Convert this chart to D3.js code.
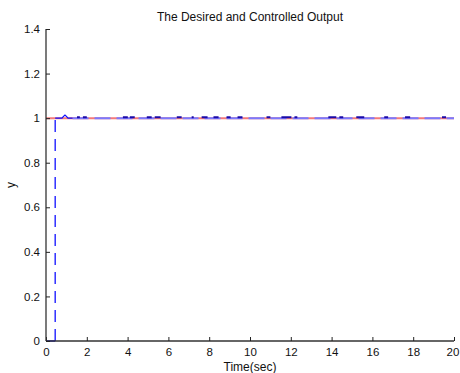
<!DOCTYPE html>
<html><head><meta charset="utf-8">
<script src="https://cdn.jsdelivr.net/npm/d3@7"></script>
<style>body{margin:0;background:#fff}svg{display:block}text{font-family:"Liberation Sans",Arial,sans-serif;fill:#111}</style>
</head><body><svg id="c" width="460" height="373"></svg>
<script>
const titleText = "The Desired and Controlled Output";
const xLabel = "Time(sec)";
const yLabel = "y";
const xTicks = [0,2,4,6,8,10,12,14,16,18,20];
const yTicks = [0,0.2,0.4,0.6,0.8,1,1.2,1.4];
const yTickLabels = ["0","0.2","0.4","0.6","0.8","1","1.2","1.4"];
// desired output (reference)
const desiredT = [0, 20];
const desiredY = [1, 1];
// controlled output: zero before step, rise, and small overshoot
const baseT = [0, 0.45];
const baseY = [0, 0];
const stepT = [0.45, 0.45];
const stepY = [0, 1];
const overT = [0.45, 0.62, 0.78, 0.86, 0.93, 1.0, 1.08, 1.3];
const overY = [1, 1, 1, 1.008, 1.014, 1.008, 1, 1];
// steady-state part of controlled output
const steadyT = [1.3, 20];
const steadyY = [1, 1];
// small deviations (dark segments) along steady state: [start, end]
const ripplesStart = [1.52,1.81,3.77,4.11,4.94,5.33,6.41,7.14,7.63,8.21,8.85,9.39,10.81,11.54,12.18,13.84,14.38,15.21,16.58,17.6,19.41];
const ripplesEnd   = [1.66,2.00,4.01,4.35,5.18,5.62,6.65,7.24,7.92,8.46,9.05,9.63,11.00,12.03,12.32,14.23,14.57,15.60,16.77,17.85,19.61];
const rippleY = 1.004;

const svg = d3.select("#c");
const x = d3.scaleLinear().domain([0,20]).range([46,454]);
const y = d3.scaleLinear().domain([0,1.4]).range([341,29]);

svg.append("text").attr("x",250).attr("y",21).attr("text-anchor","middle").attr("font-size",12).text(titleText);
svg.append("text").attr("x",250).attr("y",371).attr("text-anchor","middle").attr("font-size",12).text(xLabel);
svg.append("text").attr("transform","translate(15,185) rotate(-90)").attr("text-anchor","middle").attr("font-size",12).text(yLabel);

const line = d3.line().x(d=>x(d[0])).y(d=>y(d[1]));
const zip = (a,b)=>a.map((v,i)=>[v,b[i]]);

// desired
svg.append("path").attr("d",line(zip(desiredT,desiredY))).attr("fill","none").attr("stroke","#f47a7a").attr("stroke-width",2);
// steady state controlled (light blue dashed)
svg.append("path").attr("d",line(zip(steadyT,steadyY))).attr("fill","none").attr("stroke","#7a7aff").attr("stroke-width",2).attr("stroke-dasharray","16,6");
// ripples
svg.append("g").selectAll("line").data(ripplesStart.map((s,i)=>[s,ripplesEnd[i]])).join("line")
  .attr("x1",d=>x(d[0])).attr("x2",d=>x(d[1])).attr("y1",y(rippleY)).attr("y2",y(rippleY))
  .attr("stroke","#1a0aa8").attr("stroke-width",2);
// base, step and overshoot
svg.append("path").attr("d",line(zip(baseT,baseY))).attr("fill","none").attr("stroke","#1010ff").attr("stroke-width",1.5);
svg.append("path").attr("d",line(zip(stepT,stepY))).attr("fill","none").attr("stroke","#1010ff").attr("stroke-width",1.3).attr("stroke-dasharray","12,7");
svg.append("path").attr("d",line(zip(overT,overY))).attr("fill","none").attr("stroke","#1010ff").attr("stroke-width",1.3);

// axes
const gx = svg.append("g").attr("transform","translate(0,341)")
  .call(d3.axisBottom(x).tickValues(xTicks).tickSize(-4).tickPadding(7).tickFormat(d3.format("d")));
const gy = svg.append("g").attr("transform","translate(46,0)")
  .call(d3.axisLeft(y).tickValues(yTicks).tickSize(-4).tickPadding(6).tickFormat((d,i)=>yTickLabels[i]));
[gx,gy].forEach(g=>{
  g.select(".domain").attr("stroke","#333").attr("stroke-width",1.3);
  g.selectAll(".tick line").attr("stroke","#222");
  g.selectAll(".tick text").attr("font-size",11.5).attr("fill","#111").attr("font-family","Liberation Sans, Arial, sans-serif");
});
gx.selectAll(".tick text").filter(d=>d===20).attr("dx",-1.5);
gx.select(".domain").attr("d","M46,0H454");
gy.select(".domain").attr("d","M0,29V341");
</script></body></html>
